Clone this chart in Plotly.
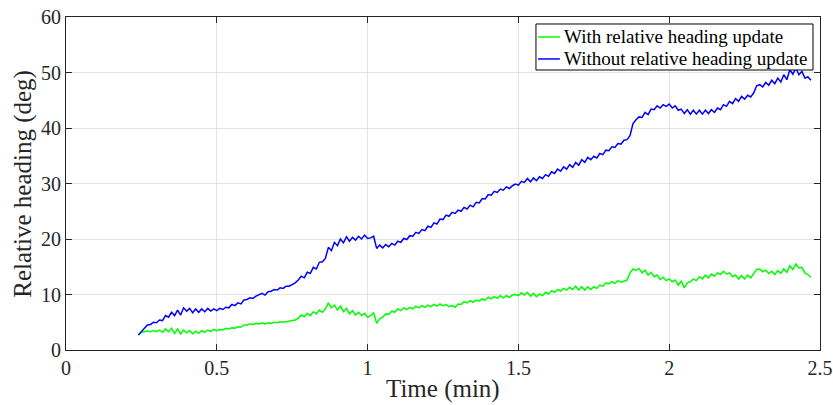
import plotly.graph_objects as go

time_min = [0.24, 0.25, 0.26, 0.27, 0.28, 0.29, 0.30, 0.31, 0.32, 0.33, 0.34, 0.35, 0.36, 0.37, 0.38, 0.39,
            0.40, 0.41, 0.42, 0.43, 0.44, 0.45, 0.46, 0.47, 0.48, 0.49, 0.50, 0.51, 0.52, 0.53, 0.54, 0.55,
            0.56, 0.57, 0.58, 0.59, 0.60, 0.61, 0.62, 0.63, 0.64, 0.65, 0.66, 0.67, 0.68, 0.69, 0.70, 0.71,
            0.72, 0.73, 0.74, 0.75, 0.76, 0.77, 0.78, 0.79, 0.80, 0.81, 0.82, 0.83, 0.84, 0.85, 0.86, 0.87,
            0.88, 0.89, 0.90, 0.91, 0.92, 0.93, 0.94, 0.95, 0.96, 0.97, 0.98, 0.99, 1.00, 1.01, 1.02, 1.03,
            1.04, 1.05, 1.06, 1.07, 1.08, 1.09, 1.10, 1.11, 1.12, 1.13, 1.14, 1.15, 1.16, 1.17, 1.18, 1.19,
            1.20, 1.21, 1.22, 1.23, 1.24, 1.25, 1.26, 1.27, 1.28, 1.29, 1.30, 1.31, 1.32, 1.33, 1.34, 1.35,
            1.36, 1.37, 1.38, 1.39, 1.40, 1.41, 1.42, 1.43, 1.44, 1.45, 1.46, 1.47, 1.48, 1.49, 1.50, 1.51,
            1.52, 1.53, 1.54, 1.55, 1.56, 1.57, 1.58, 1.59, 1.60, 1.61, 1.62, 1.63, 1.64, 1.65, 1.66, 1.67,
            1.68, 1.69, 1.70, 1.71, 1.72, 1.73, 1.74, 1.75, 1.76, 1.77, 1.78, 1.79, 1.80, 1.81, 1.82, 1.83,
            1.84, 1.85, 1.86, 1.87, 1.88, 1.89, 1.90, 1.91, 1.92, 1.93, 1.94, 1.95, 1.96, 1.97, 1.98, 1.99,
            2.00, 2.01, 2.02, 2.03, 2.04, 2.05, 2.06, 2.07, 2.08, 2.09, 2.10, 2.11, 2.12, 2.13, 2.14, 2.15,
            2.16, 2.17, 2.18, 2.19, 2.20, 2.21, 2.22, 2.23, 2.24, 2.25, 2.26, 2.27, 2.28, 2.29, 2.30, 2.31,
            2.32, 2.33, 2.34, 2.35, 2.36, 2.37, 2.38, 2.39, 2.40, 2.41, 2.42, 2.43, 2.44, 2.45, 2.46, 2.47]

with_update = [2.7, 3.2, 3.3, 3.4, 3.3, 3.5, 3.3, 3.6, 3.2, 3.8, 3.3, 3.9, 3.0, 3.8, 2.9, 3.6,
               3.1, 3.5, 2.9, 3.4, 3.0, 3.5, 3.2, 3.6, 3.3, 3.7, 3.5, 3.7, 3.6, 3.9, 3.8, 4.0,
               3.9, 4.2, 4.1, 4.5, 4.5, 4.7, 4.6, 4.8, 4.7, 4.9, 4.7, 4.9, 4.8, 5.0, 4.9, 5.1,
               5.0, 5.1, 5.1, 5.2, 5.4, 5.7, 6.3, 6.0, 6.6, 6.2, 6.9, 6.5, 7.2, 6.8, 7.4, 8.5,
               7.6, 8.1, 7.2, 7.9, 6.9, 7.5, 6.5, 7.1, 6.3, 6.8, 6.2, 6.6, 5.9, 6.2, 6.7, 4.8,
               5.6, 5.9, 6.5, 6.4, 7.0, 6.8, 7.4, 7.1, 7.6, 7.3, 7.7, 7.4, 7.9, 7.6, 8.0, 7.7,
               8.1, 7.8, 8.2, 7.9, 8.3, 8.0, 8.2, 7.8, 8.0, 7.7, 8.3, 8.2, 8.7, 8.5, 8.9, 8.6,
               9.0, 8.8, 9.2, 9.0, 9.5, 9.2, 9.6, 9.3, 9.8, 9.4, 9.8, 9.5, 9.9, 10.0, 9.8, 10.3,
               9.9, 10.4, 9.7, 10.2, 9.6, 10.1, 9.8, 10.4, 10.1, 10.7, 10.4, 10.9, 10.6, 11.1, 10.8, 11.3,
               10.9, 11.5, 10.8, 11.4, 10.8, 11.4, 10.9, 11.4, 11.1, 11.7, 11.5, 12.1, 11.9, 12.3, 12.0, 12.5,
               12.2, 12.4, 12.6, 13.9, 14.6, 14.4, 14.7, 13.9, 14.4, 13.5, 14.0, 13.2, 13.5, 12.7, 13.1, 12.5,
               12.8, 12.3, 12.6, 11.7, 12.4, 11.2, 12.1, 12.3, 12.8, 12.5, 13.2, 12.8, 13.5, 13.0, 13.7, 13.3,
               13.9, 13.6, 14.2, 13.7, 13.9, 13.2, 13.5, 12.8, 13.4, 12.8, 13.5, 13.0, 13.8, 14.5, 14.6, 14.1,
               14.4, 13.8, 14.2, 13.6, 14.3, 13.8, 14.6, 14.0, 15.2, 14.5, 15.5, 14.8, 14.9, 13.9, 13.6, 13.1]

without_update = [2.7, 3.4, 3.9, 4.5, 4.6, 5.0, 4.9, 5.4, 5.3, 6.2, 5.9, 6.8, 6.2, 7.2, 6.3, 7.6,
                  7.0, 7.5, 6.7, 7.4, 6.8, 7.4, 6.9, 7.5, 7.0, 7.4, 7.1, 7.5, 7.3, 7.7, 7.6, 8.2,
                  8.0, 8.5, 8.3, 9.0, 9.1, 9.4, 9.3, 9.7, 9.9, 10.2, 9.9, 10.5, 10.6, 10.9, 10.8, 11.2,
                  11.1, 11.5, 11.5, 11.8, 12.1, 12.6, 13.3, 13.0, 14.0, 13.8, 14.9, 14.6, 15.8, 15.9, 16.5, 18.5,
                  17.9, 19.4, 18.8, 20.0, 19.3, 20.4, 19.6, 20.3, 19.8, 20.5, 20.0, 20.7, 20.1, 20.2, 20.5, 18.3,
                  18.9, 18.4, 19.0, 18.6, 19.2, 18.9, 19.6, 19.4, 20.1, 19.9, 20.6, 20.5, 21.2, 21.0, 21.7, 21.5,
                  22.3, 22.1, 22.9, 22.7, 23.6, 23.5, 24.3, 24.1, 24.8, 24.6, 25.2, 25.0, 25.7, 25.4, 26.1, 25.8,
                  26.6, 26.5, 27.3, 27.2, 28.0, 27.9, 28.6, 28.4, 29.0, 28.8, 29.4, 29.1, 29.6, 29.9, 29.7, 30.4,
                  30.2, 30.9, 30.3, 31.0, 30.5, 31.2, 30.9, 31.6, 31.3, 32.1, 31.8, 32.6, 32.2, 33.0, 32.6, 33.4,
                  32.9, 33.8, 33.3, 34.3, 33.8, 34.7, 34.3, 34.9, 34.6, 35.4, 35.2, 36.0, 35.9, 36.6, 36.5, 37.2,
                  37.1, 37.8, 37.9, 38.6, 40.8, 41.5, 42.0, 41.9, 42.8, 42.4, 43.4, 43.3, 44.0, 43.6, 44.2, 43.9,
                  44.3, 43.6, 44.0, 43.2, 43.4, 42.6, 43.3, 42.5, 43.2, 42.5, 43.2, 42.5, 43.2, 42.6, 43.3, 42.8,
                  43.6, 43.3, 44.2, 43.9, 44.8, 44.4, 45.3, 44.8, 45.7, 45.2, 45.9, 45.6, 46.3, 47.6, 47.8, 47.4,
                  48.2, 47.7, 48.6, 48.0, 49.0, 48.3, 49.6, 48.7, 50.5, 49.7, 50.8, 49.6, 50.2, 49.0, 49.2, 48.6]

series_names = ["With relative heading update", "Without relative heading update"]
series_colors = ["#00ff00", "#0000ff"]

x_tick_vals = [0, 0.5, 1, 1.5, 2, 2.5]
x_tick_text = ["0", "0.5", "1", "1.5", "2", "2.5"]
y_tick_vals = [0, 10, 20, 30, 40, 50, 60]
x_title = "Time (min)"
y_title = "Relative heading (deg)"

FONT = "Liberation Serif"
AXIS = "#262626"

fig = go.Figure()
for name, color, vals in zip(series_names, series_colors, [with_update, without_update]):
    fig.add_trace(go.Scatter(x=time_min, y=vals, mode="lines", name=name,
                             line=dict(color=color, width=1.5)))

common_axis = dict(showgrid=True, gridcolor="#e3e3e3", gridwidth=1,
                   showline=True, linecolor=AXIS, linewidth=1, mirror="allticks",
                   ticks="inside", ticklen=6, tickcolor=AXIS,
                   tickfont=dict(family=FONT, size=20, color=AXIS),
                   zeroline=False, automargin=False)

# Legend drawn as a MATLAB-style box (paper coordinates)
leg_x0, leg_x1, leg_y0, leg_y1 = 0.6233, 0.9907, 0.8408, 0.979
row_y = [0.940, 0.874]
line_x0, line_x1, text_x = 0.626, 0.655, 0.658

shapes = [dict(type="rect", xref="paper", yref="paper", x0=leg_x0, x1=leg_x1, y0=leg_y0, y1=leg_y1,
               line=dict(color="#000000", width=1), fillcolor="white", layer="above")]
annotations = [
    dict(text=x_title, xref="paper", yref="paper", x=0.5, y=-0.068,
         xanchor="center", yanchor="top", showarrow=False,
         font=dict(family=FONT, size=25, color=AXIS)),
    dict(text=y_title, xref="paper", yref="paper", x=-0.058, y=0.5,
         xanchor="center", yanchor="middle", textangle=-90, showarrow=False,
         font=dict(family=FONT, size=25, color=AXIS)),
]
for name, color, ry in zip(series_names, series_colors, row_y):
    shapes.append(dict(type="line", xref="paper", yref="paper", x0=line_x0, x1=line_x1, y0=ry, y1=ry,
                       line=dict(color=color, width=1.5), layer="above"))
    annotations.append(dict(text=name, xref="paper", yref="paper", x=text_x, y=ry,
                            xanchor="left", yanchor="middle", showarrow=False,
                            font=dict(family=FONT, size=19, color="#000000")))

fig.update_layout(
    width=833, height=405,
    margin=dict(l=66, r=13, t=17, b=55),
    paper_bgcolor="white", plot_bgcolor="white",
    font=dict(family=FONT, color=AXIS),
    showlegend=False,
    xaxis=dict(range=[0, 2.5], tickvals=x_tick_vals, ticktext=x_tick_text, **common_axis),
    yaxis=dict(range=[0, 60], tickvals=y_tick_vals, **common_axis),
    shapes=shapes,
    annotations=annotations,
)

fig.write_html("out.html")
